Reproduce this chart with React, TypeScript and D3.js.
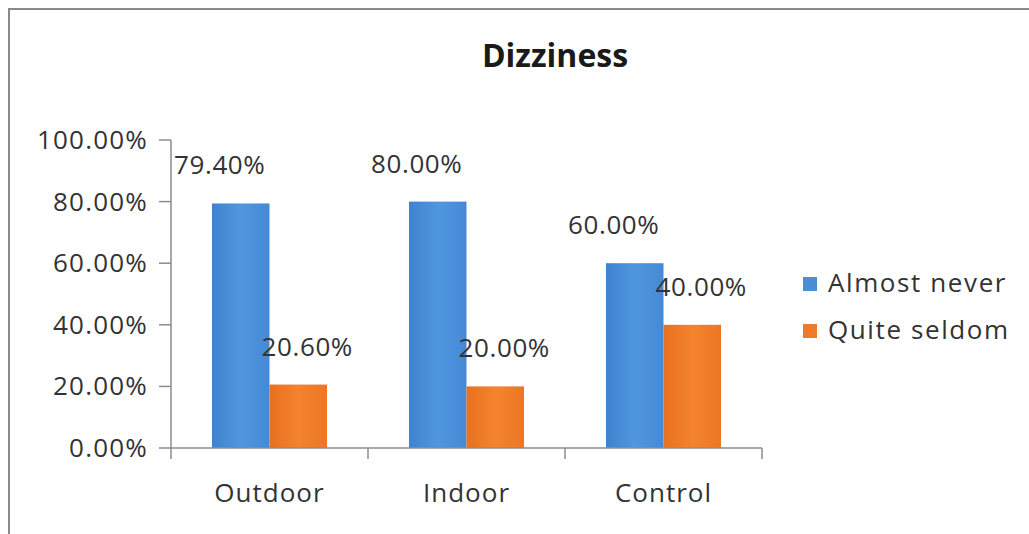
import React from "react";
import * as d3 from "d3";

const categories = ["Outdoor", "Indoor", "Control"];
const seriesNames = ["Almost never", "Quite seldom"];
const almostNever = [0.794, 0.8, 0.6];
const quiteSeldom = [0.206, 0.2, 0.4];
const yTicks = [0, 0.2, 0.4, 0.6, 0.8, 1.0];
const title = "Dizziness";

const W = 1029;
const H = 534;
const FONT = "'Open Sans', 'DejaVu Sans', sans-serif";
const TEXT = "#333";
const AXIS = "#8c8c8c";

const plot = { left: 171, right: 762, top: 140, bottom: 448 };

export default function App() {
  const y = d3.scaleLinear().domain([0, 1]).range([plot.bottom, plot.top]);
  const x0 = d3
    .scaleBand<string>()
    .domain(categories)
    .range([plot.left, plot.right])
    .paddingInner(0.416)
    .paddingOuter(0.208);
  const x1 = d3
    .scaleBand<string>()
    .domain(seriesNames)
    .range([0, x0.bandwidth()]);
  const color = d3
    .scaleOrdinal<string, string>()
    .domain(seriesNames)
    .range(["url(#gradBlue)", "url(#gradOrange)"]);
  const swatch = d3
    .scaleOrdinal<string, string>()
    .domain(seriesNames)
    .range(["#4a8fd6", "#ee7a2a"]);
  const values: Record<string, number[]> = {
    "Almost never": almostNever,
    "Quite seldom": quiteSeldom,
  };
  const labelShift: Record<string, number> = {
    "Almost never": -21,
    "Quite seldom": 9,
  };
  const fmt = d3.format(".2%");

  const tickStep = x0.step();

  return (
    <svg
      width={W}
      height={H}
      style={{ position: "absolute", left: 0, top: 0, background: "#fff" }}
    >
      <defs>
        <linearGradient id="gradBlue" x1="0" x2="1" y1="0" y2="0">
          <stop offset="0" stopColor="#3f82cf" />
          <stop offset="0.5" stopColor="#4f97de" />
          <stop offset="1" stopColor="#4589d6" />
        </linearGradient>
        <linearGradient id="gradOrange" x1="0" x2="1" y1="0" y2="0">
          <stop offset="0" stopColor="#e8701f" />
          <stop offset="0.5" stopColor="#f5832d" />
          <stop offset="1" stopColor="#ec7624" />
        </linearGradient>
      </defs>

      {/* chart frame */}
      <line x1={9} x2={W} y1={9} y2={9} stroke="#8a8a8a" strokeWidth={2} />
      <line x1={9} x2={9} y1={8} y2={H} stroke="#8a8a8a" strokeWidth={2} />

      <text
        x={555}
        y={67}
        textAnchor="middle"
        fontFamily={FONT}
        fontWeight="bold"
        fontSize={32}
        fill="#1a1a1a"
      >
        {title}
      </text>

      {/* y axis */}
      <line x1={plot.left} x2={plot.left} y1={plot.top} y2={plot.bottom} stroke={AXIS} strokeWidth={1.5} />
      {yTicks.map((t) => (
        <g key={t}>
          <line x1={plot.left - 12} x2={plot.left} y1={y(t)} y2={y(t)} stroke={AXIS} strokeWidth={1.5} />
          <text
            x={148}
            y={y(t) + 9}
            textAnchor="end"
            fontFamily={FONT}
            fontSize={26}
            letterSpacing={1.2}
            fill={TEXT}
          >
            {fmt(t)}
          </text>
        </g>
      ))}

      {/* bars */}
      {categories.map((c, i) =>
        seriesNames.map((s) => {
          const v = values[s][i];
          const bx = (x0(c) ?? 0) + (x1(s) ?? 0);
          return (
            <rect
              key={c + s}
              x={bx}
              y={y(v)}
              width={x1.bandwidth()}
              height={y(0) - y(v)}
              fill={color(s)}
            />
          );
        })
      )}

      {/* x axis */}
      <line x1={plot.left} x2={plot.right} y1={plot.bottom} y2={plot.bottom} stroke={AXIS} strokeWidth={1.5} />
      {d3.range(categories.length + 1).map((k) => (
        <line
          key={k}
          x1={plot.left + k * tickStep}
          x2={plot.left + k * tickStep}
          y1={plot.bottom}
          y2={plot.bottom + 11}
          stroke={AXIS}
          strokeWidth={1.5}
        />
      ))}
      {categories.map((c) => (
        <text
          key={c}
          x={(x0(c) ?? 0) + x0.bandwidth() / 2}
          y={502}
          textAnchor="middle"
          fontFamily={FONT}
          fontSize={26}
          letterSpacing={1}
          fill={TEXT}
        >
          {c}
        </text>
      ))}

      {/* data labels */}
      {categories.map((c, i) =>
        seriesNames.map((s) => {
          const v = values[s][i];
          const cx = (x0(c) ?? 0) + (x1(s) ?? 0) + x1.bandwidth() / 2 + labelShift[s];
          return (
            <text
              key={"l" + c + s}
              x={cx}
              y={y(v) - 29}
              textAnchor="middle"
              fontFamily={FONT}
              fontSize={26}
              letterSpacing={0.6}
              fill={TEXT}
            >
              {fmt(v)}
            </text>
          );
        })
      )}

      {/* legend */}
      {seriesNames.map((s, i) => (
        <g key={s} transform={`translate(803, ${277 + i * 47})`}>
          <rect x={0} y={0} width={14} height={14} fill={swatch(s)} />
          <text x={25} y={15} fontFamily={FONT} fontSize={26} letterSpacing={1.6} fill={TEXT}>
            {s}
          </text>
        </g>
      ))}
    </svg>
  );
}
